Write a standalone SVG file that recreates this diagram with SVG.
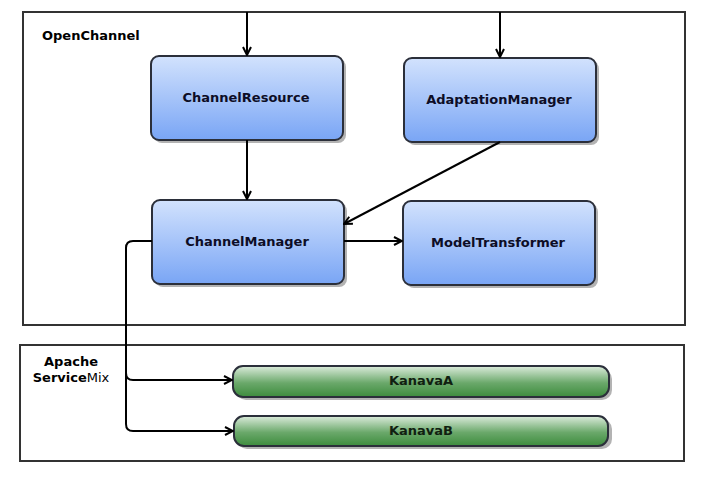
<svg xmlns="http://www.w3.org/2000/svg" width="705" height="481" viewBox="0 0 705 481">
<style>
.container{fill:#fff;stroke:#333;stroke-width:2}
.clabel{font-family:"DejaVu Sans",sans-serif;font-weight:bold;font-size:13px;fill:#000}
.node{stroke:#2b2f3a;stroke-width:2}
.shadow{fill:#b3b3b3}
.label{font-family:"DejaVu Sans",sans-serif;font-weight:bold;font-size:13px;fill:#0d0d26;text-anchor:middle}
.glabel{font-family:"DejaVu Sans",sans-serif;font-weight:bold;font-size:13px;fill:#102010;text-anchor:middle}
.conn{fill:none;stroke:#000;stroke-width:2}
</style>
<defs>
<linearGradient id="blue" x1="0" y1="0" x2="0" y2="1">
<stop offset="0" stop-color="#d2e2fd"/>
<stop offset="1" stop-color="#79a5f5"/>
</linearGradient>
<linearGradient id="green" x1="0" y1="0" x2="0" y2="1">
<stop offset="0" stop-color="#dcecdc"/>
<stop offset="0.55" stop-color="#6aa86a"/>
<stop offset="1" stop-color="#3d8c3d"/>
</linearGradient>
<marker id="arr" viewBox="0 0 10 10" refX="9" refY="5" markerWidth="10" markerHeight="10" markerUnits="userSpaceOnUse" orient="auto">
<path d="M1,1 L9,5 L1,9" fill="none" stroke="#000" stroke-width="2"/>
</marker>
</defs>
<rect width="705" height="481" fill="#fff"/>
<g id="OpenChannel">
<rect class="container" x="23" y="12" width="662" height="313"/>
<text class="clabel" x="42" y="40">OpenChannel</text>
</g>
<g id="ApacheServiceMix">
<rect class="container" x="20" y="345" width="664" height="116"/>
<text class="clabel" x="71" y="366" text-anchor="middle">Apache</text>
<text class="clabel" x="71" y="382" text-anchor="middle">Service<tspan font-weight="500">Mix</tspan></text>
</g>
<g id="ChannelResource">
<rect class="shadow" x="154" y="59" width="192" height="84" rx="8"/>
<rect class="node" x="151" y="56" width="192" height="84" rx="8" fill="url(#blue)"/>
<text class="label" x="246" y="102">ChannelResource</text>
</g>
<g id="AdaptationManager">
<rect class="shadow" x="407" y="61" width="192" height="84" rx="8"/>
<rect class="node" x="404" y="58" width="192" height="84" rx="8" fill="url(#blue)"/>
<text class="label" x="499" y="104">AdaptationManager</text>
</g>
<g id="ChannelManager">
<rect class="shadow" x="155" y="203" width="192" height="84" rx="8"/>
<rect class="node" x="152" y="200" width="192" height="84" rx="8" fill="url(#blue)"/>
<text class="label" x="247" y="246">ChannelManager</text>
</g>
<g id="ModelTransformer">
<rect class="shadow" x="406" y="204" width="192" height="84" rx="8"/>
<rect class="node" x="403" y="201" width="192" height="84" rx="8" fill="url(#blue)"/>
<text class="label" x="498" y="247">ModelTransformer</text>
</g>
<g id="KanavaA">
<rect class="shadow" x="236" y="369" width="376" height="31" rx="10"/>
<rect class="node" x="233" y="366" width="376" height="31" rx="10" fill="url(#green)"/>
<text class="glabel" x="421" y="385">KanavaA</text>
</g>
<g id="KanavaB">
<rect class="shadow" x="237" y="419" width="375" height="30" rx="10"/>
<rect class="node" x="234" y="416" width="374" height="30" rx="10" fill="url(#green)"/>
<text class="glabel" x="421" y="435">KanavaB</text>
</g>
<g id="connectors">
<line class="conn" x1="247" y1="12" x2="247" y2="55" marker-end="url(#arr)"/>
<line class="conn" x1="500" y1="12" x2="500" y2="57" marker-end="url(#arr)"/>
<line class="conn" x1="247" y1="140" x2="247" y2="199" marker-end="url(#arr)"/>
<line class="conn" x1="500" y1="142" x2="344" y2="224" marker-end="url(#arr)"/>
<line class="conn" x1="344" y1="241" x2="402" y2="241" marker-end="url(#arr)"/>
<path class="conn" d="M152,241 H133 Q126,241 126,248 V373 Q126,380 133,380 H232" marker-end="url(#arr)"/>
<path class="conn" d="M126,373 V424 Q126,431 133,431 H233" marker-end="url(#arr)"/>
</g>
</svg>
